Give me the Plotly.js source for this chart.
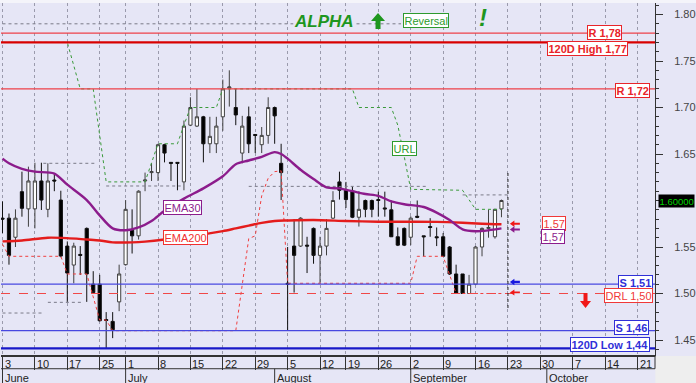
<!DOCTYPE html>
<html><head><meta charset="utf-8">
<script src="https://cdn.plot.ly/plotly-3.0.1.min.js"></script>
<style>html,body{margin:0;padding:0;background:#E6E6F6;}#c{width:696px;height:383px;}</style>
</head><body><div id="c"></div>
<script>
// ---------- data (trading-day index 0 = 3 June) ----------
const open  = [1.581,1.581,1.5605,1.6095,1.591,1.591,1.621,1.5905,1.622,1.6005,1.551,1.5306,1.542,1.570,1.510,1.510,1.472,1.470,1.491,1.531,1.568,1.562,1.621,1.630,1.630,1.660,1.641,1.641,1.620,1.681,1.680,1.690,1.661,1.661,1.690,1.721,1.700,1.651,1.690,1.671,1.660,1.670,1.700,1.640,1.511,1.551,1.551,1.552,1.570,1.541,1.551,1.581,1.620,1.611,1.610,1.582,1.600,1.600,1.601,1.592,1.590,1.561,1.570,1.5605,1.583,1.562,1.572,1.561,1.561,1.550,1.521,1.521,1.500,1.510,1.550,1.570,1.561,1.591];
const high  = [1.599,1.586,1.5905,1.631,1.6364,1.6406,1.6406,1.640,1.628,1.6105,1.556,1.5546,1.551,1.571,1.524,1.520,1.480,1.480,1.531,1.6005,1.5905,1.611,1.630,1.640,1.661,1.661,1.641,1.641,1.686,1.711,1.720,1.691,1.690,1.690,1.730,1.740,1.720,1.691,1.701,1.671,1.679,1.711,1.701,1.661,1.550,1.580,1.582,1.561,1.571,1.561,1.580,1.610,1.631,1.620,1.615,1.610,1.601,1.601,1.6095,1.6095,1.600,1.571,1.571,1.583,1.600,1.562,1.581,1.571,1.565,1.551,1.531,1.521,1.520,1.551,1.571,1.590,1.591,1.601];
const low   = [1.565,1.531,1.550,1.5826,1.5718,1.570,1.5898,1.582,1.610,1.539,1.491,1.511,1.520,1.491,1.500,1.470,1.441,1.452,1.481,1.530,1.543,1.558,1.610,1.621,1.621,1.641,1.621,1.611,1.611,1.680,1.679,1.641,1.651,1.651,1.675,1.701,1.681,1.640,1.651,1.651,1.651,1.661,1.661,1.6005,1.460,1.501,1.550,1.522,1.532,1.511,1.541,1.580,1.601,1.592,1.581,1.572,1.582,1.582,1.5826,1.5826,1.561,1.551,1.551,1.552,1.581,1.540,1.561,1.551,1.540,1.520,1.500,1.500,1.500,1.509,1.540,1.560,1.559,1.582];
const close = [1.580,1.541,1.581,1.5916,1.621,1.621,1.6005,1.621,1.621,1.5403,1.522,1.551,1.541,1.521,1.501,1.4707,1.471,1.461,1.521,1.5905,1.562,1.610,1.622,1.631,1.660,1.651,1.640,1.640,1.680,1.700,1.690,1.661,1.669,1.680,1.720,1.722,1.692,1.680,1.661,1.670,1.670,1.700,1.691,1.630,1.510,1.541,1.581,1.551,1.541,1.551,1.570,1.600,1.611,1.601,1.582,1.5905,1.5905,1.5905,1.600,1.591,1.561,1.552,1.552,1.581,1.582,1.561,1.571,1.560,1.540,1.521,1.500,1.500,1.510,1.550,1.570,1.571,1.5905,1.600];

const ema30X = [0,1,3,5,8,10,13,15,17,19,21,23,25,28,31,34,36,38,40,42,43,44,46,48,50,52,54,56,58,60,62,65,67,69,71,73,75,77];
const ema30Y = [1.645,1.640,1.634,1.631,1.629,1.617,1.6005,1.584,1.570,1.568,1.571,1.578,1.589,1.602,1.613,1.626,1.639,1.643,1.647,1.652,1.650,1.645,1.633,1.623,1.614,1.613,1.610,1.607,1.605,1.599,1.596,1.593,1.587,1.579,1.569,1.567,1.568,1.570];

const ema200X = [0,3,7,10,13,15,17,20,22,25,28,31,34,36,38,40,42,44,48,53,58,63,67,71,74,77];
const ema200Y = [1.556,1.557,1.560,1.5595,1.558,1.557,1.555,1.555,1.5558,1.558,1.561,1.5636,1.567,1.570,1.573,1.576,1.578,1.5785,1.579,1.578,1.5772,1.5772,1.577,1.576,1.575,1.5744];

const urlX = [0,10,12,14,16,22,24,27,28,29,33,34,54,55,60,61,62,63,71,72,73,77];
const urlY = [1.77,1.77,1.72,1.72,1.62,1.62,1.661,1.661,1.681,1.70,1.70,1.72,1.72,1.70,1.70,1.681,1.647,1.612,1.611,1.600,1.5905,1.5905];

const drlX = [0,1,9,10,13,14,15,16,17,36,37,38,39,40,41,42,43,44,63,64,68,69,70,77];
const drlY = [1.553,1.540,1.540,1.521,1.521,1.4966,1.4715,1.4715,1.460,1.460,1.51,1.559,1.562,1.605,1.624,1.631,1.632,1.511,1.511,1.540,1.540,1.520,1.500,1.500];

// dotted pivot segments: start index, end index, level
const pivStart = [0,6.3,7,16,38,71,0];
const pivEnd   = [6.3,14.5,12.5,27.5,65.5,78,61.5];
const pivLevel = [1.479,1.64,1.4905,1.6156,1.6152,1.606,1.79];

// horizontal support / resistance levels
const levels      = [1.78,1.77,1.72,1.51,1.50,1.46,1.441];
const levelLabels = ["R 1,78","120D High 1,77","R 1,72","S 1,51","DRL 1,50","S 1,46","120D Low 1,44"];

const emaLast = ["1,57","1,57"];
const lastPrice = 1.60, lastLabel = "1.60000";
const todayIdx = 78;

const dayTicks  = [0,5,10,15,19,24,29,34,39,44,49,53,58,63,68,73,78,83,88,93,98];
const dayLabels = ["3","10","17","25","1","8","15","22","29","5","12","19","26","2","9","16","23","30","7","14","21"];
const monthIdx    = [0,19,42,63,84];
const monthLabels = ["June","July","August","September","October"];

const yTicks = [1.45,1.50,1.55,1.60,1.65,1.70,1.75,1.80];
const yTickText = ["1.45","1.50","1.55","","1.65","1.70","1.75","1.80"];

// ---------- styles ----------
const FONT = "Liberation Sans, Arial, sans-serif";
const RED = "#E8242A", BLUE = "#3030D8", PURPLE = "#8C1C8C", GREEN = "#2E9A2E";
const levelStyle = [
  {c:"#EE4048", w:1.2, d:"solid", bold:true, tc:RED},
  {c:"#D80000", w:2.2, d:"solid", bold:true, tc:RED},
  {c:"#EE4048", w:1.2, d:"solid", bold:true, tc:RED},
  {c:"#4848E0", w:1.2, d:"solid", bold:true, tc:BLUE},
  {c:"#F04848", w:1, d:"dash", bold:false, tc:"#F03838"},
  {c:"#4848E0", w:1.2, d:"solid", bold:true, tc:BLUE},
  {c:"#1818C8", w:2.2, d:"solid", bold:true, tc:BLUE}
];
const levelLabRight = [0.9495,0.9587,0.9924,0.997,0.9965,0.9908,0.9924];
const levelLabAnchor = ["middle","top","middle","middle","middle","middle","middle"];
const levelLabShift = [0.5,1.5,-1.5,1.5,-2.2,3.5,4];

const idx = open.map((_, i) => i);

const traces = [];
const px = [], py = [];
pivStart.forEach((s, k) => { px.push(s, pivEnd[k], null); py.push(pivLevel[k], pivLevel[k], null); });
traces.push({type:"scatter", mode:"lines", x:px, y:py, line:{color:"#7A7A88", width:1, dash:"dot"}, hoverinfo:"skip"});
traces.push({type:"scatter", mode:"lines", x:drlX, y:drlY, line:{color:"#F04040", width:1, dash:"dot"}, hoverinfo:"skip"});
traces.push({type:"scatter", mode:"lines", x:urlX, y:urlY, line:{color:"#3A9A3A", width:1, dash:"dot"}, hoverinfo:"skip"});

const shapes = [];
shapes.push({type:"rect", xref:"paper", yref:"paper", x0:-0.01, x1:1.07, y0:1.0, y1:1.012, fillcolor:"#F4F4FA", line:{width:0}});
levels.forEach((v, k) => {
  const s = levelStyle[k];
  shapes.push({type:"line", xref:"paper", yref:"y", x0:0, x1:1, y0:v, y1:v, line:{color:s.c, width:s.w, dash:s.d}, layer:"above"});
});
shapes.push({type:"line", xref:"x", yref:"y", x0:todayIdx, x1:todayIdx, y0:1.4844, y1:1.6296, line:{color:"#222", width:1, dash:"dot"}});
monthIdx.forEach(m => shapes.push({type:"line", xref:"x", yref:"paper", x0:m, x1:m, y0:-0.039, y1:-0.08, line:{color:"#333", width:1}}));
shapes.push({type:"line", xref:"paper", yref:"paper", x0:0, x1:1, y0:-0.039, y1:-0.039, line:{color:"#333", width:1}});
shapes.push({type:"rect", xref:"paper", yref:"paper", x0:1.0005, x1:1.07, y0:-0.0025, y1:-0.09, fillcolor:"#EEEEEE", line:{width:0}});
shapes.push({type:"line", xref:"paper", yref:"paper", x0:1, x1:1, y0:0, y1:-0.039, line:{color:"#333", width:1}});

// block arrows drawn as pixel-sized paths anchored at their tip
// dir: 'up' | 'down' | 'left'; L = total length, hw = head half-width, hl = head length, sw = shaft half-width
function arrowShape(x, y, dir, L, hw, hl, sw, color) {
  let pts;
  if (dir === "left") {
    pts = [[0,0],[hl,hw],[hl,sw],[L,sw],[L,-sw],[hl,-sw],[hl,-hw]];
  } else {
    const s = dir === "up" ? -1 : 1; // pixel y positive = up
    pts = [[0,0],[-hw,s*hl],[-sw,s*hl],[-sw,s*L],[sw,s*L],[sw,s*hl],[hw,s*hl]];
  }
  const path = "M" + pts.map(p => p[0] + "," + p[1]).join(" L") + " Z";
  return {type:"path", xref:"x", yref:"y", xsizemode:"pixel", ysizemode:"pixel", xanchor:x, yanchor:y,
    path:path, fillcolor:color, line:{width:0}, layer:"above"};
}
shapes.push(arrowShape(57.95, 1.8016, "up", 16, 7, 8, 2.5, "#1E961E"));
shapes.push(arrowShape(89.97, 1.4844, "down", 15, 5.5, 7, 2, "#F01818"));
shapes.push(arrowShape(78.3, 1.5750, "left", 10, 3.2, 4.5, 1.1, "#F01818"));
shapes.push(arrowShape(78.3, 1.5688, "left", 10, 3.2, 4.5, 1.1, PURPLE));
shapes.push(arrowShape(78.3, 1.5124, "left", 10, 3.2, 4.5, 1.1, "#1818E0"));
shapes.push(arrowShape(78.3, 1.5012, "left", 10, 3, 4.5, 0.8, "#F01818"));

traces.push({type:"candlestick", x:idx, open:open, high:high, low:low, close:close,
  increasing:{line:{color:"#404040", width:1}, fillcolor:"#FFFFFF"},
  decreasing:{line:{color:"#101010", width:1}, fillcolor:"#000000"},
  whiskerwidth:0, hoverinfo:"skip"});
traces.push({type:"scatter", mode:"lines", x:ema200X, y:ema200Y, line:{color:"#E41C1C", width:2.4, shape:"spline", smoothing:0.8}, hoverinfo:"skip"});
traces.push({type:"scatter", mode:"lines", x:ema30X, y:ema30Y, line:{color:PURPLE, width:2.4, shape:"spline", smoothing:0.8}, hoverinfo:"skip"});

const ann = [];
function box(text, x, y, color, o) {
  return Object.assign({text:text, x:x, y:y, xref:"x", yref:"y", showarrow:false,
    font:{family:FONT, size:11, color:color}, bgcolor:"#FFFFFF", bordercolor:color, borderwidth:1, borderpad:0.5,
    xanchor:"center", yanchor:"middle"}, o || {});
}
levels.forEach((v, k) => {
  const s = levelStyle[k];
  ann.push(box(s.bold ? "<b>" + levelLabels[k] + "</b>" : levelLabels[k], levelLabRight[k], v, s.tc,
    {xref:"paper", xanchor:"right", yanchor:levelLabAnchor[k], yshift:levelLabShift[k], bordercolor:s.c === "#D80000" ? RED : s.tc}));
});
ann.push(box("EMA30", 27.85, 1.5925, PURPLE));
ann.push(box("EMA200", 28.24, 1.5602, "#F03030"));
ann.push(box("URL", 61.96, 1.6554, GREEN));
ann.push(box(emaLast[0], 85.1, 1.5755, "#F03838"));
ann.push(box(emaLast[1], 84.95, 1.5608, PURPLE));
ann.push(box("Reversal", 65.35, 1.7935, GREEN));
ann.push({text:"<b><i>ALPHA</i></b>", x:49.6, y:1.7925, xref:"x", yref:"y", showarrow:false,
  font:{family:FONT, size:17, color:"#1E961E"}, bgcolor:"#E6E6F6", borderpad:0});
ann.push({text:"<b><i>!</i></b>", x:74.1, y:1.7968, xref:"x", yref:"y", showarrow:false,
  font:{family:FONT, size:24, color:"#1E961E"}});
ann.push({text:lastLabel, x:1.0046, y:lastPrice, xref:"paper", yref:"y", showarrow:false, xanchor:"left", yanchor:"middle",
  font:{family:FONT, size:9.5, color:"#00D000"}, bgcolor:"#000000", borderpad:0.5});
dayTicks.forEach((t, k) => ann.push({text:dayLabels[k], x:t, y:0, xref:"x", yref:"paper", showarrow:false,
  xanchor:"left", yanchor:"top", xshift:0, yshift:-0.5, font:{family:FONT, size:11, color:"#222"}}));
monthIdx.forEach((m, k) => ann.push({text:monthLabels[k], x:m, y:0, xref:"x", yref:"paper", showarrow:false,
  xanchor:"left", yanchor:"top", xshift:0, yshift:-14.5, font:{family:FONT, size:11, color:"#222"}}));

const layout = {
  width:696, height:383, margin:{l:1, r:41, t:3, b:28},
  paper_bgcolor:"#E6E6F6", plot_bgcolor:"#E6E6F6", showlegend:false,
  font:{family:FONT, size:11, color:"#444"},
  xaxis:{range:[-0.2315, 100.694], tickmode:"array", tickvals:dayTicks, showticklabels:false,
    ticks:"outside", ticklen:13, tickcolor:"#333", tickwidth:1,
    showgrid:true, gridcolor:"#9A9AAC", griddash:"dot", gridwidth:1,
    showline:true, linecolor:"#333", linewidth:2, zeroline:false, rangeslider:{visible:false}, fixedrange:true},
  yaxis:{side:"right", range:[1.43387, 1.81237], tickmode:"array", tickvals:yTicks, ticktext:yTickText,
    ticks:"outside", ticklen:7, tickcolor:"#333", ticklabelstandoff:9,
    minor:{dtick:0.01, tick0:1.40, ticks:"outside", ticklen:3, tickcolor:"#333", showgrid:false},
    showgrid:false, showline:true, linecolor:"#333", linewidth:1, zeroline:false,
    tickfont:{family:FONT, size:11, color:"#444"}, fixedrange:true},
  shapes:shapes, annotations:ann
};
Plotly.newPlot("c", traces, layout, {displayModeBar:false, staticPlot:true});
</script></body></html>
